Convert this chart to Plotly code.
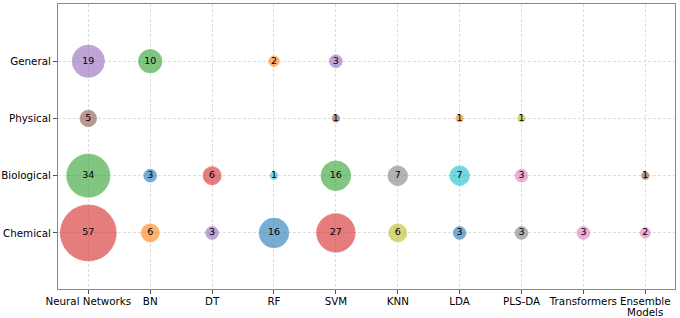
import math
import plotly.graph_objects as go

methods = ["Neural Networks", "BN", "DT", "RF", "SVM", "KNN", "LDA", "PLS-DA", "Transformers", "Ensemble Models"]
method_labels = ["Neural Networks", "BN", "DT", "RF", "SVM", "KNN", "LDA", "PLS-DA", "Transformers", "Ensemble"]
domains = ["Chemical", "Biological", "Physical", "General"]

pt_domain = ["General", "General", "General", "General",
             "Physical", "Physical", "Physical", "Physical",
             "Biological", "Biological", "Biological", "Biological", "Biological",
             "Biological", "Biological", "Biological", "Biological",
             "Chemical", "Chemical", "Chemical", "Chemical", "Chemical",
             "Chemical", "Chemical", "Chemical", "Chemical", "Chemical"]
pt_method = ["Neural Networks", "BN", "RF", "SVM",
             "Neural Networks", "SVM", "LDA", "PLS-DA",
             "Neural Networks", "BN", "DT", "RF", "SVM",
             "KNN", "LDA", "PLS-DA", "Ensemble Models",
             "Neural Networks", "BN", "DT", "RF", "SVM",
             "KNN", "LDA", "PLS-DA", "Transformers", "Ensemble Models"]
pt_count = [19, 10, 2, 3,
            5, 1, 1, 1,
            34, 3, 6, 1, 16,
            7, 7, 3, 1,
            57, 6, 3, 16, 27,
            6, 3, 3, 3, 2]
pt_color = ["#9467bd", "#2ca02c", "#ff7f0e", "#9467bd",
            "#8c564b", "#8c564b", "#ff7f0e", "#bcbd22",
            "#2ca02c", "#1f77b4", "#d62728", "#17becf", "#2ca02c",
            "#7f7f7f", "#17becf", "#e377c2", "#8c564b",
            "#d62728", "#ff7f0e", "#9467bd", "#1f77b4", "#d62728",
            "#bcbd22", "#1f77b4", "#7f7f7f", "#e377c2", "#e377c2"]

xs = [methods.index(m) for m in pt_method]
ys = [domains.index(d) for d in pt_domain]
sizes = [7.4 * math.sqrt(c) for c in pt_count]

FONT = 10.3

fig = go.Figure()
fig.add_trace(go.Scatter(
    x=xs, y=ys, mode="markers+text",
    text=[str(c) for c in pt_count],
    textposition="middle center",
    textfont=dict(family="DejaVu Sans", size=9.5, color="black"),
    marker=dict(size=sizes, color=pt_color, opacity=0.6,
                line=dict(width=0.8, color=pt_color)),
    hoverinfo="skip", showlegend=False,
))

axis_common = dict(
    showline=True, mirror=True, linecolor="#888888", linewidth=1.2,
    showgrid=True, gridcolor="#dddddd", griddash="3px,2px", gridwidth=0.8,
    ticks="outside", ticklen=4, tickcolor="#555555", tickwidth=1,
    zeroline=False, automargin=False, tickangle=0,
    tickfont=dict(family="DejaVu Sans", size=FONT, color="black"),
)
fig.update_xaxes(range=[-0.49, 9.48], tickmode="array",
                 tickvals=list(range(len(methods))), ticktext=method_labels,
                 ticklabelstandoff=-1, **axis_common)
fig.update_yaxes(range=[-0.98, 4.0], tickmode="array",
                 tickvals=list(range(len(domains))), ticktext=domains,
                 **axis_common)
fig.add_annotation(
    x=methods.index("Ensemble Models"), xref="x", y=0, yref="paper",
    yshift=-23, yanchor="middle", xanchor="center", showarrow=False,
    text="Models", font=dict(family="DejaVu Sans", size=FONT, color="black"),
)
fig.update_layout(
    width=680, height=318,
    margin=dict(l=58, r=5, t=4, b=29),
    plot_bgcolor="white", paper_bgcolor="white",
)
fig.write_html("out.html")
